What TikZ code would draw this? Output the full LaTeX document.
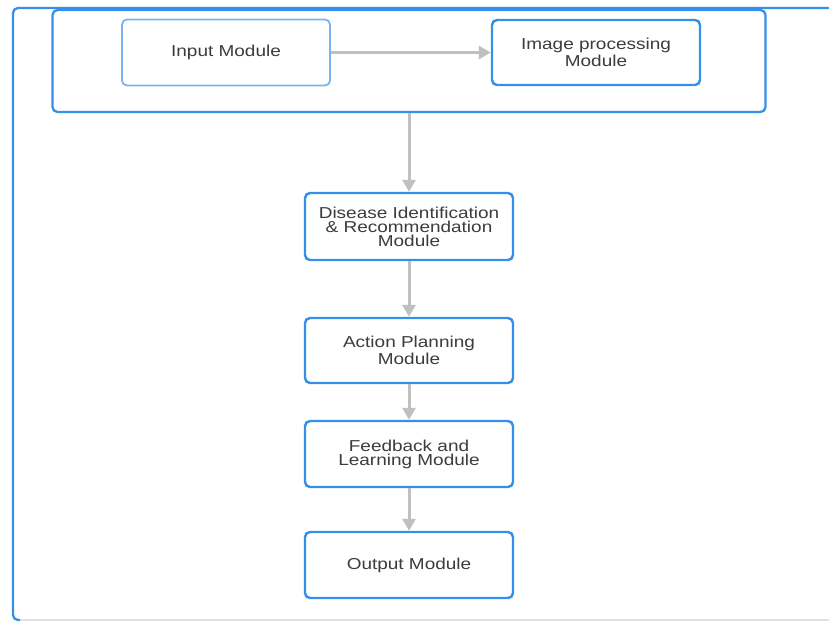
\documentclass[tikz,border=0pt]{standalone}
\usepackage{fontspec}
\setmainfont{Liberation Sans}
\newfontfamily\modulefont[FakeStretch=1.2]{Liberation Sans}
\usetikzlibrary{arrows.meta, positioning}
\definecolor{boxblue}{RGB}{52, 144, 232}
\definecolor{lightblue}{RGB}{120, 180, 240}
\definecolor{arrowgray}{RGB}{192, 192, 192}
\definecolor{textgray}{RGB}{60, 60, 60}
\definecolor{framegray}{RGB}{225, 225, 225}

\begin{document}
\begin{tikzpicture}[
    module/.style={rectangle, rounded corners=0.1cm, minimum width=4.16cm, minimum height=1.32cm, align=center, draw=boxblue, line width=1.4pt, fill=white, text=textgray, font=\modulefont\fontsize{9}{8}\selectfont, inner sep=0pt},
    group/.style={rectangle, rounded corners=0.1cm, minimum width=14.26cm, minimum height=2.04cm, draw=boxblue, line width=1.3pt, inner sep=0pt},
    arrow/.style={line width=1.7pt, draw=arrowgray, -{Triangle[length=0.24cm, width=0.26cm]}}
]
\useasboundingbox (0,0) rectangle (16.58,-12.44);

% Outer frame
\draw [framegray, line width=0.8pt] (16.58,-12.40) -- (0.36,-12.40);
\draw [boxblue, line width=1.3pt, rounded corners=0.1cm] (16.58,-0.16) -- (0.26,-0.16) -- (0.26,-12.40) -- (0.4,-12.40);

% Upper group
\node (upper) [group] at (8.18,-1.22) {};
\node (input) [module, draw=lightblue, line width=1pt] at (4.52,-1.05) {Input Module};
\node (imgproc) [module, minimum height=1.3cm] at (11.92,-1.05) {Image processing\\Module};

% Modules
\node (disease) [module, minimum height=1.34cm] at (8.18,-4.53) {Disease Identification\\\& Recommendation\\Module};
\node (action) [module, minimum height=1.3cm] at (8.18,-7.01) {Action Planning\\Module};
\node (feedback) [module] at (8.18,-9.08) {Feedback and\\Learning Module};
\node (output) [module] at (8.18,-11.30) {Output Module};

% Arrows
\draw [arrow] (input) -- (imgproc);
\draw [arrow] (upper) -- (disease);
\draw [arrow] (disease) -- (action);
\draw [arrow] (action) -- (feedback);
\draw [arrow] (feedback) -- (output);

\end{tikzpicture}
\end{document}
